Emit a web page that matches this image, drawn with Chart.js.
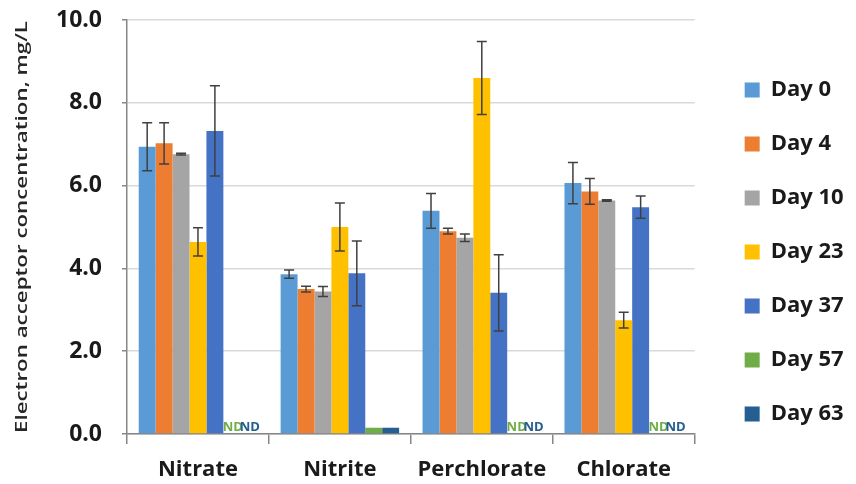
<!DOCTYPE html>
<html>
<head>
<meta charset="utf-8">
<script src="https://cdn.jsdelivr.net/npm/chart.js"></script>
<style>
  html, body { margin: 0; padding: 0; background: #fff; }
  #wrap { width: 856px; height: 484px; }
</style>
</head>
<body>
<div id="wrap"><canvas id="graphic"></canvas></div>
<script>
const categories = ['Nitrate', 'Nitrite', 'Perchlorate', 'Chlorate'];
const days = ['Day 0', 'Day 4', 'Day 10', 'Day 23', 'Day 37', 'Day 57', 'Day 63'];
const colors = ['#5B9BD5', '#ED7D31', '#A5A5A5', '#FFC000', '#4472C4', '#70AD47', '#255E91'];

// mean concentration, mg/L (null = ND)
const day0 = [6.94, 3.86, 5.39, 6.06];
const day4 = [7.02, 3.50, 4.90, 5.86];
const day10 = [6.76, 3.44, 4.74, 5.64];
const day23 = [4.64, 5.00, 8.60, 2.75];
const day37 = [7.32, 3.88, 3.41, 5.48];
const day57 = [null, 0.15, null, null];
const day63 = [null, 0.15, null, null];

// standard deviation
const err0 = [0.58, 0.10, 0.42, 0.50];
const err4 = [0.50, 0.07, 0.07, 0.31];
const err10 = [0.02, 0.12, 0.09, 0.02];
const err23 = [0.34, 0.58, 0.88, 0.19];
const err37 = [1.09, 0.78, 0.92, 0.27];
const err57 = [0, 0, 0, 0];
const err63 = [0, 0, 0, 0];

const yTicks = [0, 2, 4, 6, 8, 10];
const yTitle = 'Electron acceptor concentration, mg/L';

const values = [day0, day4, day10, day23, day37, day57, day63];
const errors = [err0, err4, err10, err23, err37, err57, err63];

const textColor = '#1a1a1a';
const font = { family: "'Open Sans', sans-serif", size: 22, weight: 'bold' };

const errorBars = {
    id: 'errorBars',
    afterDatasetsDraw(chart) {
        const ctx = chart.ctx;
        const y = chart.scales.y;
        ctx.save();
        ctx.strokeStyle = '#404040';
        ctx.lineWidth = 1.5;
        chart.data.datasets.forEach((ds, d) => {
            const meta = chart.getDatasetMeta(d);
            ds.data.forEach((v, i) => {
                const e = errors[d][i];
                if (v === null || !e) return;
                const x = meta.data[i].x;
                const top = y.getPixelForValue(v + e);
                const bot = y.getPixelForValue(v - e);
                ctx.beginPath();
                ctx.moveTo(x, top); ctx.lineTo(x, bot);
                ctx.moveTo(x - 5, top); ctx.lineTo(x + 5, top);
                ctx.moveTo(x - 5, bot); ctx.lineTo(x + 5, bot);
                ctx.stroke();
            });
        });
        ctx.restore();
    }
};

const ndLabels = {
    id: 'ndLabels',
    afterDatasetsDraw(chart) {
        const ctx = chart.ctx;
        const y0 = chart.scales.y.getPixelForValue(0);
        const ref = chart.getDatasetMeta(4).data;
        ctx.save();
        ctx.font = "bold 13px 'Open Sans', sans-serif";
        ctx.textAlign = 'center';
        ctx.textBaseline = 'alphabetic';
        chart.data.datasets.forEach((ds, d) => {
            ds.data.forEach((v, i) => {
                if (v !== null) return;
                const x = ref[i].x + ref[i].width * (d - 4) + 1;
                ctx.fillStyle = colors[d];
                ctx.fillText('ND', x, y0 - 3);
            });
        });
        ctx.restore();
    }
};

const axisTitle = {
    id: 'axisTitle',
    afterDraw(chart) {
        const ctx = chart.ctx;
        const area = chart.chartArea;
        ctx.save();
        ctx.font = "600 16px 'Open Sans', sans-serif";
        ctx.fillStyle = '#262626';
        ctx.textAlign = 'center';
        ctx.textBaseline = 'middle';
        const w = ctx.measureText(yTitle).width;
        const len = area.bottom - area.top - 2;
        ctx.translate(22, (area.top + area.bottom) / 2);
        ctx.rotate(-Math.PI / 2);
        ctx.scale(len / w, 1);
        ctx.fillText(yTitle, 0, 0);
        ctx.restore();
    }
};

const grafico = new Chart(document.getElementById('graphic'), {
    type: 'bar',
    data: {
        labels: categories,
        datasets: days.map((day, d) => ({
            label: day,
            data: values[d],
            backgroundColor: colors[d],
            borderWidth: 0,
            categoryPercentage: 0.835,
            barPercentage: 1.0
        }))
    },
    options: {
        responsive: true,
        maintainAspectRatio: false,
        animation: false,
        layout: { padding: { left: 36, top: 20, right: 8, bottom: 0 } },
        plugins: {
            legend: {
                position: 'right',
                labels: {
                    boxWidth: 15,
                    boxHeight: 15,
                    padding: 32,
                    color: textColor,
                    font: font
                }
            },
            tooltip: { enabled: false }
        },
        scales: {
            x: {
                afterFit: s => { s.height = 50; },
                grid: {
                    offset: true,
                    drawOnChartArea: false,
                    tickLength: 10,
                    tickColor: '#868686',
                    lineWidth: 1.5
                },
                border: { color: '#868686', width: 1.5 },
                ticks: { color: textColor, font: font, padding: 13 }
            },
            y: {
                min: 0,
                max: 10,
                afterBuildTicks: s => { s.ticks = yTicks.map(v => ({ value: v })); },
                afterFit: s => { s.paddingTop = 0; s.paddingBottom = 0; },
                grid: {
                    color: '#d9d9d9',
                    lineWidth: 1.5,
                    tickLength: 5,
                    tickColor: '#868686'
                },
                border: { color: '#868686', width: 1.5 },
                ticks: {
                    color: textColor,
                    font: { family: "'Open Sans', sans-serif", size: 23, weight: 'bold' },
                    padding: 20,
                    callback: v => v.toFixed(1)
                }
            },
            spacer: {
                type: 'linear',
                axis: 'y',
                position: 'right',
                grid: { display: false },
                border: { display: false },
                ticks: { display: false },
                afterFit: s => { s.width = 18; }
            }
        }
    },
    plugins: [errorBars, ndLabels, axisTitle]
});
</script>
</body>
</html>
